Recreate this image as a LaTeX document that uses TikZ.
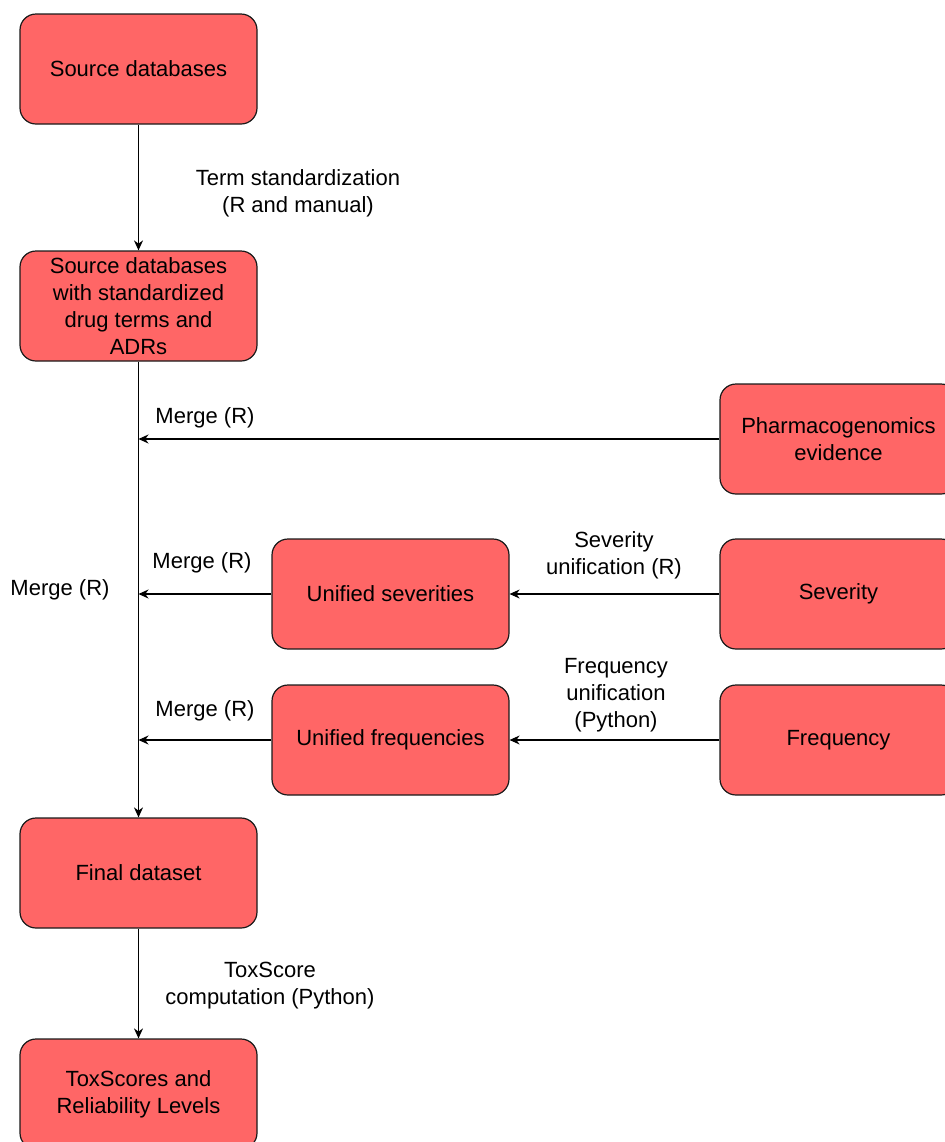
\documentclass[tikz,border=0pt]{standalone}
\usepackage{fontspec}
\setmainfont{Liberation Sans}
\usetikzlibrary{arrows.meta}
\definecolor{boxred}{HTML}{FF6666}
\definecolor{edge}{HTML}{1A1A1A}
\begin{document}
\begin{tikzpicture}[x=0.5pt,y=-0.5pt,
  box/.style={draw=edge, line width=0.6pt, fill=boxred, rounded corners=8pt,
    minimum width=118.5pt, minimum height=55pt, align=center, inner sep=2pt,
    font=\fontsize{11}{13.5}\selectfont},
  lbl/.style={align=center, font=\fontsize{11}{13.5}\selectfont, inner sep=0pt},
  arr/.style={draw=black, line width=0.55pt, -{Stealth[length=5pt,width=4.5pt,inset=1.6pt]}}]
\useasboundingbox (0,0) rectangle (945,1142);
\begin{scope}
\clip (0,0) rectangle (945,1142);
\node[box] (sd1) at (138.5,69) {Source databases};
\node[box] (sd2) at (138.5,306) {Source databases\\with standardized\\drug terms and\\ADRs};
\node[box] (pg) at (838.5,439) {Pharmacogenomics\\evidence};
\node[box] (sev) at (838.5,594) {Severity};
\node[box] (us) at (390.5,594) {Unified severities};
\node[box] (frq) at (838.5,740) {Frequency};
\node[box] (uf) at (390.5,740) {Unified frequencies};
\node[box] (fd) at (138.5,873) {Final dataset};
\node[box] (tx) at (138.5,1094) {ToxScores and\\Reliability Levels};
\end{scope}

\draw[arr] (sd1) -- (sd2);
\draw[arr] (sd2) -- (fd);
\draw[arr] (fd) -- (tx);
\draw[arr] (pg.west) -- (pg.west -| sd2.south);
\draw[arr] (us.west) -- (us.west -| sd2.south);
\draw[arr] (uf.west) -- (uf.west -| sd2.south);
\draw[arr] (sev) -- (us);
\draw[arr] (frq) -- (uf);

\node[lbl] (l1) at (298,193) {Term standardization\\(R and manual)};
\node[lbl] (l2) at (205,418) {Merge (R)};
\node[lbl] (l3) at (202,563) {Merge (R)};
\node[lbl] (l4) at (60,590) {Merge (R)};
\node[lbl] (l5) at (205,711) {Merge (R)};
\node[lbl] (l6) at (614,555) {Severity\\unification (R)};
\node[lbl] (l7) at (616,695) {Frequency\\unification\\(Python)};
\node[lbl] (l8) at (270,986) {ToxScore\\computation (Python)};
\end{tikzpicture}
\end{document}
